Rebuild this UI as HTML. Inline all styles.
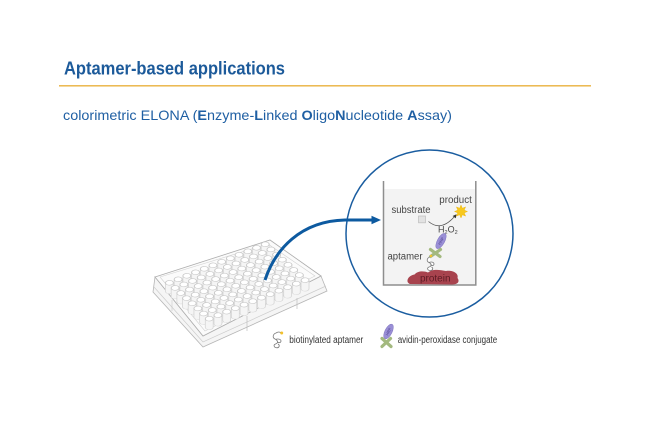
<!DOCTYPE html>
<html>
<head>
<meta charset="utf-8">
<style>
html,body{margin:0;padding:0;background:#fff;width:650px;height:433px;overflow:hidden}
svg{display:block}
</style>
</head>
<body>
<svg width="650" height="433" viewBox="0 0 650 433" xmlns="http://www.w3.org/2000/svg" font-family="'Liberation Sans', sans-serif">
  <defs>
    <g id="w">
      <line x1="0" y1="0" x2="-7.6" y2="11.6" stroke="#d6d6d6" stroke-width="8.4" stroke-linecap="round"/>
      <line x1="0" y1="0" x2="-7.6" y2="11.6" stroke="#f5f5f5" stroke-width="6.8" stroke-linecap="round"/>
      <circle cx="0" cy="0" r="3.8" fill="#ffffff" stroke="#c8c8c8" stroke-width="0.9"/>
    </g>
    <g id="row">
      <use href="#w" x="5" y="5"/>
      <use href="#w" x="15" y="5"/>
      <use href="#w" x="25" y="5"/>
      <use href="#w" x="35" y="5"/>
      <use href="#w" x="45" y="5"/>
      <use href="#w" x="55" y="5"/>
      <use href="#w" x="65" y="5"/>
      <use href="#w" x="75" y="5"/>
      <use href="#w" x="85" y="5"/>
      <use href="#w" x="95" y="5"/>
      <use href="#w" x="105" y="5"/>
      <use href="#w" x="115" y="5"/>
    </g>
  </defs>

  <!-- Title -->
  <text x="64" y="74.5" font-size="18.5" font-weight="bold" fill="#1c5a9a" textLength="221" lengthAdjust="spacingAndGlyphs">Aptamer-based applications</text>
  <line x1="59" y1="85.8" x2="591" y2="85.8" stroke="#e9b03b" stroke-width="1.4"/>

  <!-- Subtitle -->
  <text x="63" y="120" font-size="14" fill="#1f5fa3" textLength="389" lengthAdjust="spacingAndGlyphs">colorimetric ELONA (<tspan font-weight="bold">E</tspan>nzyme-<tspan font-weight="bold">L</tspan>inked <tspan font-weight="bold">O</tspan>ligo<tspan font-weight="bold">N</tspan>ucleotide <tspan font-weight="bold">A</tspan>ssay)</text>

  <!-- Plate -->
  <polygon points="155,277 153,292 203,347 327,291 321,276 203,336" fill="#f5f5f5" stroke="#b5b5b5" stroke-width="0.8"/>
  <polyline points="154,287 203,342 326,286" fill="none" stroke="#cccccc" stroke-width="0.7"/>
  <line x1="247" y1="316" x2="247" y2="331" stroke="#bdbdbd" stroke-width="0.7"/>
  <line x1="297" y1="298" x2="297" y2="309" stroke="#bdbdbd" stroke-width="0.7"/>
  <line x1="172" y1="300" x2="172" y2="311" stroke="#c8c8c8" stroke-width="0.6"/>
  <polygon points="155,277 270,240 321,276 203,336" fill="#fbfbfb" stroke="#adadad" stroke-width="0.8"/>
  <polygon points="160,277 268,244 315,276 205,331" fill="none" stroke="#d2d2d2" stroke-width="0.6"/>
  <clipPath id="pc"><polygon points="155,277 270,240 323,277 323,300 203,345 153,295"/></clipPath>
  <g clip-path="url(#pc)">
    <g transform="matrix(0.8708,-0.35,0.5688,0.5125,162.25,282)">
      <use href="#row" x="0" y="0"/>
      <use href="#row" x="0" y="10"/>
      <use href="#row" x="0" y="20"/>
      <use href="#row" x="0" y="30"/>
      <use href="#row" x="0" y="40"/>
      <use href="#row" x="0" y="50"/>
      <use href="#row" x="0" y="60"/>
      <use href="#row" x="0" y="70"/>
    </g>
  </g>

  <!-- Zoom circle -->
  <circle cx="429.5" cy="233.5" r="83.5" fill="none" stroke="#1a5da0" stroke-width="1.5"/>

  <!-- Blue arrow -->
  <path d="M265,280 C275,250 300,221 345,220 L374,220" fill="none" stroke="#0d5aa0" stroke-width="3"/>
  <polygon points="381,220 371.5,215.8 371.5,224.2" fill="#0d5aa0"/>

  <!-- Well -->
  <rect x="384" y="189" width="91" height="95.5" fill="#f3f3f3"/>
  <polyline points="383.5,181 383.5,285 475.8,285 475.8,181" fill="none" stroke="#8e8e8e" stroke-width="1.5"/>

  <!-- substrate / product -->
  <text x="391.5" y="213" font-size="10" fill="#444" textLength="39" lengthAdjust="spacingAndGlyphs">substrate</text>
  <text x="439.3" y="203" font-size="10" fill="#444" textLength="32.5" lengthAdjust="spacingAndGlyphs">product</text>
  <rect x="418.5" y="216" width="7" height="6.8" fill="#e2e2e2" stroke="#bdbdbd" stroke-width="0.7"/>
  <path d="M428.5,221.5 Q441,232 454.5,216.5" fill="none" stroke="#555" stroke-width="0.8"/>
  <polygon points="456.5,214.2 452.6,216 455.8,218.2" fill="#333"/>
  <polygon points="461,205 462.34,208.27 465.6,206.9 464.23,210.16 467.5,211.5 464.23,212.84 465.6,216.1 462.34,214.73 461,218 459.66,214.73 456.4,216.1 457.77,212.84 454.5,211.5 457.77,210.16 456.4,206.9 459.66,208.27" fill="#f7c81e" stroke="#eab000" stroke-width="0.4"/>

  <!-- H2O2 -->
  <text x="438" y="232.5" font-size="9" fill="#444">H<tspan font-size="5.5" dy="1.5">2</tspan><tspan dy="-1.5">O</tspan><tspan font-size="5.5" dy="1.5">2</tspan></text>

  <!-- HRP + avidin in well -->
  <g transform="translate(441,241) rotate(-61)">
    <ellipse cx="0" cy="0" rx="8.5" ry="3.6" fill="#9a8fd6" stroke="#8277c0" stroke-width="0.5"/>
    <text x="0" y="1.4" font-size="3.8" fill="#4e428e" text-anchor="middle">HRP</text>
  </g>
  <g stroke="#a3b97f" stroke-width="3.2" stroke-linecap="round">
    <line x1="430.5" y1="249.5" x2="440" y2="256.5"/>
    <line x1="440.5" y1="249.5" x2="430.5" y2="256.5"/>
  </g>
  <circle cx="431" cy="256" r="1.2" fill="#f2c12e"/>

  <!-- aptamer in well -->
  <text x="387.5" y="259.5" font-size="10" fill="#444" textLength="35" lengthAdjust="spacingAndGlyphs">aptamer</text>
  <path d="M430,257 c-3,1 -4,4 -1,5.5 c3,1.5 3,3.5 0,4.5 c-2.5,1 -1.5,3.5 1.5,3.5 c2.5,0 3,-2.5 1,-3.5 M429,262.5 c2,-1 5,-0.5 5,1.5 c0,2 -3,2 -3.5,0.5" fill="#fff" stroke="#7a7a7a" stroke-width="0.8"/>

  <!-- protein -->
  <path d="M410,284 C405,282 408,275.5 414.5,274.5 C418,270.5 424,271 428,272.5 C433,268.5 440,270 446,271 C452,270 459,273 457.5,278 C460,281.5 458,284.5 452,284.5 Z" fill="#a8434e"/>
  <text x="420" y="281.5" font-size="10" fill="#5c1c24" textLength="30.5" lengthAdjust="spacingAndGlyphs">protein</text>

  <!-- Legend: biotinylated aptamer -->
  <path d="M276,333 c-3,1 -4,4.5 -1,6 c3,1.5 3.5,4 0.5,5 c-2.5,1 -1.5,3.8 1.5,3.8 c2.5,0 3,-2.8 1,-3.8 M275.5,339.5 c2,-1 5.5,-0.5 5.5,1.5 c0,2 -3,2.2 -3.8,0.6 M276,333 c1.5,-1 3.5,-1.5 5,0" fill="none" stroke="#7a7a7a" stroke-width="0.8"/>
  <circle cx="281.7" cy="333" r="1.5" fill="#f2c12e"/>
  <text x="289.3" y="343" font-size="10" fill="#333" textLength="74" lengthAdjust="spacingAndGlyphs">biotinylated aptamer</text>

  <!-- Legend: avidin-peroxidase conjugate -->
  <g transform="translate(388.5,331.5) rotate(-63)">
    <ellipse cx="0" cy="0" rx="8" ry="3.6" fill="#9a8fd6" stroke="#8277c0" stroke-width="0.5"/>
    <text x="0" y="1.4" font-size="3.8" fill="#4e428e" text-anchor="middle">HRP</text>
  </g>
  <g stroke="#a3b97f" stroke-width="3.2" stroke-linecap="round">
    <line x1="382" y1="338.5" x2="391" y2="346.5"/>
    <line x1="390.5" y1="338.5" x2="382" y2="346.5"/>
  </g>
  <text x="397.7" y="343" font-size="10" fill="#333" textLength="99.5" lengthAdjust="spacingAndGlyphs">avidin-peroxidase conjugate</text>
</svg>
</body>
</html>
